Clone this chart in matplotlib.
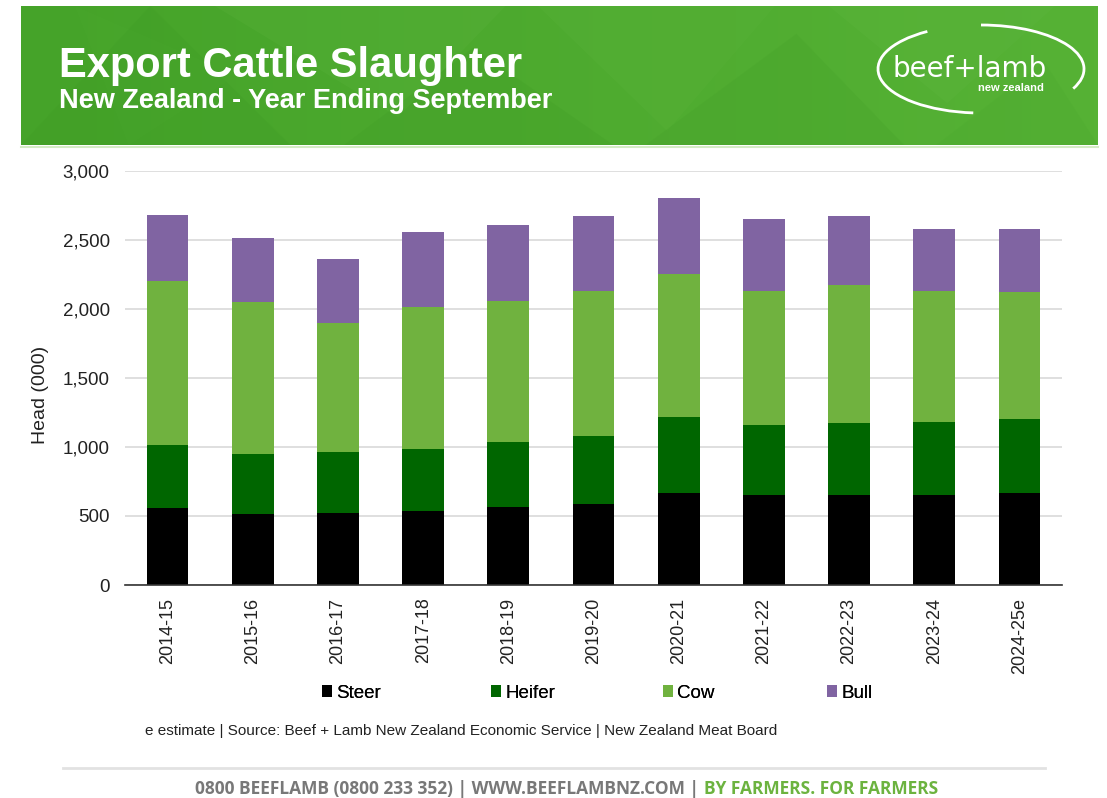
import numpy as np
import matplotlib
matplotlib.use("Agg")
import matplotlib.pyplot as plt
from matplotlib.patches import Arc, Polygon
from matplotlib.lines import Line2D

plt.rcParams['font.family'] = ['Liberation Sans', 'DejaVu Sans']

# Export cattle slaughter, head (000), year ending September
seasons = ["2014-15", "2015-16", "2016-17", "2017-18", "2018-19", "2019-20",
           "2020-21", "2021-22", "2022-23", "2023-24", "2024-25e"]
steer = [555, 512, 521, 533, 562, 584, 669, 649, 649, 649, 669]
heifer = [456, 434, 440, 454, 473, 495, 550, 510, 527, 531, 533]
cow = [1190, 1106, 941, 1029, 1021, 1050, 1038, 970, 996, 949, 920]
bull = [478, 463, 459, 540, 556, 543, 548, 526, 505, 449, 456]

series_names = ["Steer", "Heifer", "Cow", "Bull"]
series_colors = ["#000000", "#006600", "#70b23f", "#8064a2"]
yticks = [0, 500, 1000, 1500, 2000, 2500, 3000]

W, H = 1107, 798
fig = plt.figure(figsize=(W / 100, H / 100), dpi=100)
fig.patch.set_facecolor("white")


def fx(px):
    return px / W


def fy(py):
    return 1 - py / H


# ---- green header band ----
hdr = fig.add_axes([fx(21), fy(145), fx(1098 - 21), (145 - 6) / H])
hdr.set_axis_off()
grad = np.linspace(0, 1, 256)
c0 = np.array([0x45, 0xa3, 0x29]) / 255
c1 = np.array([0x56, 0xb2, 0x35]) / 255
img = c0[None, :] * (1 - grad[:, None]) + c1[None, :] * grad[:, None]
hdr.imshow(img[None, :, :], aspect="auto", extent=[0, 1, 0, 1])
hdr.set_xlim(0, 1)
hdr.set_ylim(0, 1)
# low-poly facets
facets = [
    ([(0.00, 0.0), (0.12, 1.0), (0.25, 0.0)], "#3f9c25", 0.30),
    ([(0.18, 1.0), (0.35, 0.2), (0.45, 1.0)], "#62b843", 0.20),
    ([(0.30, 0.0), (0.42, 0.7), (0.55, 0.0)], "#3e9a24", 0.22),
    ([(0.48, 1.0), (0.60, 0.1), (0.70, 1.0)], "#5fb63f", 0.20),
    ([(0.58, 0.0), (0.72, 0.8), (0.82, 0.0)], "#449f29", 0.25),
    ([(0.75, 1.0), (0.86, 0.3), (0.96, 1.0)], "#63ba45", 0.20),
    ([(0.85, 0.0), (0.95, 0.6), (1.00, 0.0)], "#4aa82e", 0.25),
    ([(0.05, 1.0), (0.20, 0.5), (0.10, 0.0)], "#4ba92f", 0.22),
]
for pts, col, a in facets:
    hdr.add_patch(Polygon(pts, closed=True, facecolor=col, edgecolor="none", alpha=a))

fig.add_artist(Line2D([fx(21), fx(1098)], [fy(146.5), fy(146.5)],
                      color="#d4ebc4", lw=1.5))

fig.text(fx(59), fy(77), "Export Cattle Slaughter", color="white",
         fontsize=30, fontweight="bold", va="baseline", ha="left")
fig.text(fx(59), fy(108), "New Zealand - Year Ending September", color="white",
         fontsize=19.5, fontweight="bold", va="baseline", ha="left")

# logo (y axis runs downward here, so arc angles are mirrored)
logo = fig.add_axes([0, 0, 1, 1], facecolor="none")
logo.set_axis_off()
logo.set_xlim(0, W)
logo.set_ylim(H, 0)
logo.add_patch(Arc((981, 69), 206, 88, angle=0, theta1=100, theta2=215,
                   color="white", lw=2.0))
logo.add_patch(Arc((981, 69), 206, 88, angle=0, theta1=-90, theta2=12,
                   color="white", lw=2.0))
logo.text(1047, 77, "beef+lamb", color="white", fontsize=20, ha="right",
          va="baseline", family=["DejaVu Sans"], fontweight="medium")
logo.text(1044, 91, "new zealand", color="white", fontsize=8,
          fontweight="bold", ha="right", va="baseline")

# ---- chart ----
ax = fig.add_axes([fx(125), fy(585), fx(1062 - 125), (585 - 171) / H])
x = np.arange(len(seasons))
bottom = np.zeros(len(seasons))
handles = []
for name, vals, col in zip(series_names, [steer, heifer, cow, bull], series_colors):
    b = ax.bar(x, vals, width=0.49, bottom=bottom, color=col, label=name,
               zorder=3, linewidth=0)
    handles.append(b)
    bottom = bottom + np.array(vals)

ax.set_xlim(-0.5, len(seasons) - 0.5)
ax.set_ylim(0, 3000)
ax.set_yticks(yticks)
ax.set_yticklabels([f"{v:,}" for v in yticks], fontsize=13.5, color="#222222")
ax.set_xticks(x)
ax.set_xticklabels(seasons, rotation=90, fontsize=13, color="#222222")
ax.tick_params(axis="both", length=0)
ax.tick_params(axis="y", pad=11)
ax.tick_params(axis="x", pad=9)
ax.grid(axis="y", color="#d9d9d9", lw=1.2, zorder=0)
for s in ["top", "right", "left"]:
    ax.spines[s].set_visible(False)
ax.spines["bottom"].set_color("#333333")
ax.spines["bottom"].set_linewidth(1.2)
ax.spines["bottom"].set_zorder(4)
ax.set_ylabel("Head (000)", fontsize=14, color="#222222")
ax.yaxis.set_label_coords(-(125 - 49) / 937, 0.46)

# one legend entry per series, spaced evenly below the axis labels
legend_x = [322, 491, 663, 827]
for h, name, lx in zip(handles, series_names, legend_x):
    fig.add_artist(fig.legend(handles=[h], labels=[name], loc="center left",
                              bbox_to_anchor=(fx(lx), fy(693)), frameon=False,
                              fontsize=13.5, handlelength=0.55,
                              handleheight=0.55, handletextpad=0.2,
                              borderpad=0, borderaxespad=0))

fig.text(fx(145), fy(731), "e estimate | Source: Beef + Lamb New Zealand Economic "
         "Service | New Zealand Meat Board", fontsize=11, color="#222222",
         ha="left", va="center")

fig.add_artist(Line2D([fx(63), fx(1045)], [fy(768), fy(768)],
                      color="#e2e2e2", lw=2))

part1 = "0800 BEEFLAMB (0800 233 352) | WWW.BEEFLAMBNZ.COM | "
part2 = "BY FARMERS. FOR FARMERS"
t1 = fig.text(fx(195), fy(789), part1, fontsize=12.5, fontweight="bold",
              color="#787878", ha="left", va="center",
              family=["Open Sans", "DejaVu Sans"])
fig.canvas.draw()
bb = t1.get_window_extent()
fig.text(bb.x1 / W, fy(789), part2, fontsize=12.5, fontweight="bold",
         color="#6cb33f", ha="left", va="center",
         family=["Open Sans", "DejaVu Sans"])

fig.savefig("out.png", dpi=100, facecolor="white")
